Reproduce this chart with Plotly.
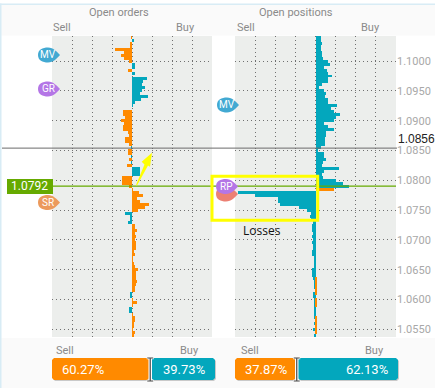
import plotly.graph_objects as go

W, H = 435, 388
ticks = [1.055, 1.06, 1.065, 1.07, 1.075, 1.08, 1.085, 1.09, 1.095, 1.10]
bin_start = 1.1040
bin_size = 0.0005

orders_sell = [-1,0,-2,-2,-17,-8,-11,-8,-3,0,0,-4,0,0,0,0,0,0,0,0,0,0,0,0,0,-9,-9,-7,-11,-8,-9,-9,-4,-3,-7,-7,-3,0,-4,-4,0,-3,0,-5,0,0,0,-10,-10,-10,-3,
               1,7,11,5,8,17,13,6,0,0,0,0,3,3,5,3,4,3,4,4,4,2,3,1,1,2,3,6,4,4,4,5,4,3,3,0,0,1,5,1,0,0,1,3,3,2,2,1,3,2,0]
orders_buy = [0,1.5,0,0,0,0,0,0,0,3,3,0,3,0,15,11,10,13,10,8,16,9,3,1,0,0,0,0,0,0,0,0,0,0,0,0,0,-1,0,0,-1,0,-1,0,8,8,8,0,0,0,0,
              0,0,0,0,0,0,0,0,-7,-2,-2,-4,0,0,0,0,0,0,0,0,0,0,0,0,0,0,0,0,0,0,0,0,0,0,0,-2,-2,0,0,0,-3,-3,0,0,0,0,0,0,0,0,0]
positions_buy = [5,5,6,5,5,6,6,7,12,14,8,11,12,16,12,12,6,3,8,10,9,12,12,21,15,18,24,20,18,8,12,18,10,10,9,9,9,5,2,8,8,10,7,6,23,8,6,7,20,27,33,
                 0,-77,-60,-37,-37,-35,-16,-8,-4,-5,-4,-2,-3,-3,-3,-2,-3,-2,-3,-2,-2,-3,-3,-1,-1,-1,-1,-3,-3,-3,-2,-1,-1,-1,-0.5,-2,-2,-1,-1,-1,-1,-1,-1,-1,-0.5,-1,-0.5,-2,-0.5,-1,-1]
positions_sell = [0]*51 + [18] + [0]*29 + [1,1,1,1,1,1,0,1,1,1,0,0,0,1,1,1,1,1,1,0]

prices = [round(bin_start - bin_size * i, 4) for i in range(len(orders_sell))]

current_price = 1.0792
line_price = 1.0856
orders_share = [60.27, 39.73]
positions_share = [37.87, 62.13]

ORANGE, TEAL = "#ff8a00", "#03a7bd"
GREY = "#8a8a8a"
P_TOP, P_BOT = 36, 337
L0, L1, R0, R1 = 52, 212, 235, 396
SY = 5962.0
ymax = 1.1 + (61.1 - P_TOP) / SY
ymin = 1.055 - (P_BOT - 329.3) / SY

px = lambda x: x / W
py = lambda y: 1 - y / H

fig = go.Figure()
fig.add_bar(x=orders_sell, y=prices, xaxis="x", yaxis="y", marker_color=ORANGE, marker_line_width=0, orientation="h", width=bin_size)
fig.add_bar(x=orders_buy, y=prices, xaxis="x", yaxis="y", marker_color=TEAL, marker_line_width=0, orientation="h", width=bin_size)
fig.add_bar(x=positions_buy, y=prices, xaxis="x2", yaxis="y2", marker_color=TEAL, marker_line_width=0, orientation="h", width=bin_size)
fig.add_bar(x=positions_sell, y=prices, xaxis="x2", yaxis="y2", marker_color=ORANGE, marker_line_width=0, orientation="h", width=bin_size)

shapes, ann = [], []

def rect(x0, y0, x1, y1, color, line=None, lw=0, layer="below"):
    shapes.append(dict(type="rect", xref="paper", yref="paper", x0=px(x0), x1=px(x1), y0=py(y0), y1=py(y1),
                       fillcolor=color, line=dict(color=line or color, width=lw), layer=layer))

def seg(x0, y0, x1, y1, color, lw=1, layer="above"):
    shapes.append(dict(type="line", xref="paper", yref="paper", x0=px(x0), x1=px(x1), y0=py(y0), y1=py(y1),
                       line=dict(color=color, width=lw), layer=layer))

def text(x, y, s, color=GREY, size=11, anchor="center", family="Roboto"):
    ann.append(dict(xref="paper", yref="paper", x=px(x), y=py(y), text=s, showarrow=False, xanchor=anchor,
                    yanchor="middle", font=dict(color=color, size=size, family=family)))

def round_bar(x0, x1, y0, y1, color, r=2):
    pts = (f"M{px(x0+r)},{py(y0)} L{px(x1-r)},{py(y0)} L{px(x1)},{py(y0+r)} L{px(x1)},{py(y1-r)} "
           f"L{px(x1-r)},{py(y1)} L{px(x0+r)},{py(y1)} L{px(x0)},{py(y1-r)} L{px(x0)},{py(y0+r)} Z")
    shapes.append(dict(type="path", xref="paper", yref="paper", path=pts, fillcolor=color, line=dict(width=0), layer="above"))

def bubble(cx, cy, color, label):
    a, b = 10, 7.5
    k = 0.55
    path = (f"M{px(cx-a)},{py(cy)} "
            f"C{px(cx-a)},{py(cy-k*b*1.3)} {px(cx-a*k)},{py(cy-b)} {px(cx)},{py(cy-b)} "
            f"C{px(cx+a*k)},{py(cy-b)} {px(cx+a-1)},{py(cy-3)} {px(cx+a+2)},{py(cy)} "
            f"C{px(cx+a-1)},{py(cy+3)} {px(cx+a*k)},{py(cy+b)} {px(cx)},{py(cy+b)} "
            f"C{px(cx-a*k)},{py(cy+b)} {px(cx-a)},{py(cy+k*b*1.3)} {px(cx-a)},{py(cy)} Z")
    shapes.append(dict(type="path", xref="paper", yref="paper", path=path, fillcolor=color, line=dict(width=0), layer="above"))
    if label:
        text(cx, cy, label, color="white", size=10)

# page frame and bands
rect(1, 4, W, 35.5, "#fafafa")
rect(1, 338, W, H, "#fafafa")
rect(0, 3.5, W, 5, "#d8ecf5")
rect(0, 3.5, 1.5, H, "#d8ecf5")

# header
text(119, 13, "Open orders", size=11)
text(62, 28, "Sell", size=11)
text(185, 28, "Buy", size=11)
text(295.5, 13, "Open positions", size=11)
text(246, 28, "Sell", size=11)
text(370, 28, "Buy", size=11)

# price lines
shapes.append(dict(type="line", xref="paper", yref="y", x0=px(2), x1=px(397), y0=line_price-0.0002, y1=line_price-0.0002,
                   line=dict(color="#6b6b6b", width=1), layer="above"))
shapes.append(dict(type="line", xref="paper", yref="y", x0=px(52), x1=px(396), y0=current_price-0.00018, y1=current_price-0.00018,
                   line=dict(color="#66aa00", width=1.4), layer="above"))
rect(7, 179, 53, 194, "#66aa00", layer="above")
text(29, 186, "%.4f" % current_price, color="white", size=12)
text(416.5, 139, "%.4f" % line_price, color="#222222", size=12, family="Liberation Sans")

# bubbles
bubble(48, 55, "#42a9d2", "MV")
bubble(48, 89, "#b476e6", "GR")
bubble(48, 202.5, "#ec9a5c", "SR")
bubble(227, 105, "#42a9d2", "MV")
bubble(226, 194, "#ec8073", "")
bubble(226, 186.5, "#b476e6", "RP")

# yellow box and arrow
rect(212, 176.3, 317.7, 220.3, "rgba(0,0,0,0)", line="#ffff00", lw=3, layer="above")
text(262, 230, "Losses", color="#111111", size=12, family="Open Sans")
arrow_pts = [(136, 185), (144.5, 164.5), (141.7, 161.7), (152, 152.7), (150, 166.7), (148, 165.5), (137, 185.5)]
shapes.append(dict(type="path", xref="paper", yref="paper", fillcolor="#ffff00", line=dict(width=0), layer="above",
                   path="M" + " L".join(f"{px(a)},{py(b)}" for a, b in arrow_pts) + " Z"))

# share bars
def share_row(share, x0, x1, split, lab_sell, lab_buy):
    text(lab_sell, 350, "Sell", size=11)
    text(lab_buy, 350, "Buy", size=11)
    round_bar(x0+1, split+1, 359, 381, "#c9c9c9")
    round_bar(split+3, x1+1, 359, 381, "#c9c9c9")
    round_bar(x0, split, 358, 380, ORANGE)
    round_bar(split+2, x1, 358, 380, TEAL)
    text(x0 + 8, 369, "%.2f%%" % share[0], color="white", size=13, anchor="left")
    text(x1 - 8, 369, "%.2f%%" % share[1], color="white", size=13, anchor="right")
    c = split + 1
    seg(c, 358, c, 381, "white", 3.5)
    seg(c-3.5, 358, c+3.5, 358, "white", 2.5)
    seg(c-3.5, 381, c+3.5, 381, "white", 2.5)
    seg(c, 358, c, 381, "#555555", 1.3)
    seg(c-3, 358, c+3, 358, "#555555", 1.1)
    seg(c-3, 381, c+3, 381, "#555555", 1.1)

share_row(orders_share, 52, 215, 52 + (215-52) * orders_share[0] / 100 - 1, 65, 189)
share_row(positions_share, 235, 398, 235 + (398-235) * positions_share[0] / 100 - 1, 250, 374)

grid = dict(showgrid=True, gridcolor="#707070", griddash="1px,3px", gridwidth=1, zeroline=False, showline=False)
common_x = dict(range=[-80, 80], dtick=20, tick0=0, showticklabels=False, ticks="", **grid)
common_y = dict(range=[ymin, ymax], tickvals=ticks, ticks="", **grid)

fig.update_layout(
    width=W, height=H, margin=dict(l=0, r=0, t=0, b=0), autosize=False,
    paper_bgcolor="white", plot_bgcolor="#eceeec", showlegend=False, barmode="overlay", bargap=0,
    shapes=shapes, annotations=ann,
    font=dict(family="Roboto"),
    xaxis=dict(domain=[px(L0), px(L1)], anchor="y", **common_x),
    xaxis2=dict(domain=[px(R0), px(R1)], anchor="y2", **common_x),
    yaxis=dict(domain=[py(P_BOT), py(P_TOP)], anchor="x", showticklabels=False, **common_y),
    yaxis2=dict(domain=[py(P_BOT), py(P_TOP)], anchor="x2", side="right", tickformat=".4f",
                tickfont=dict(size=11, color="#a8a8a8", family="Roboto"), **common_y),
)
fig.write_html("out.html", config=dict(displayModeBar=False),
               post_script="document.body.style.margin='0';document.documentElement.style.overflow='hidden';")
